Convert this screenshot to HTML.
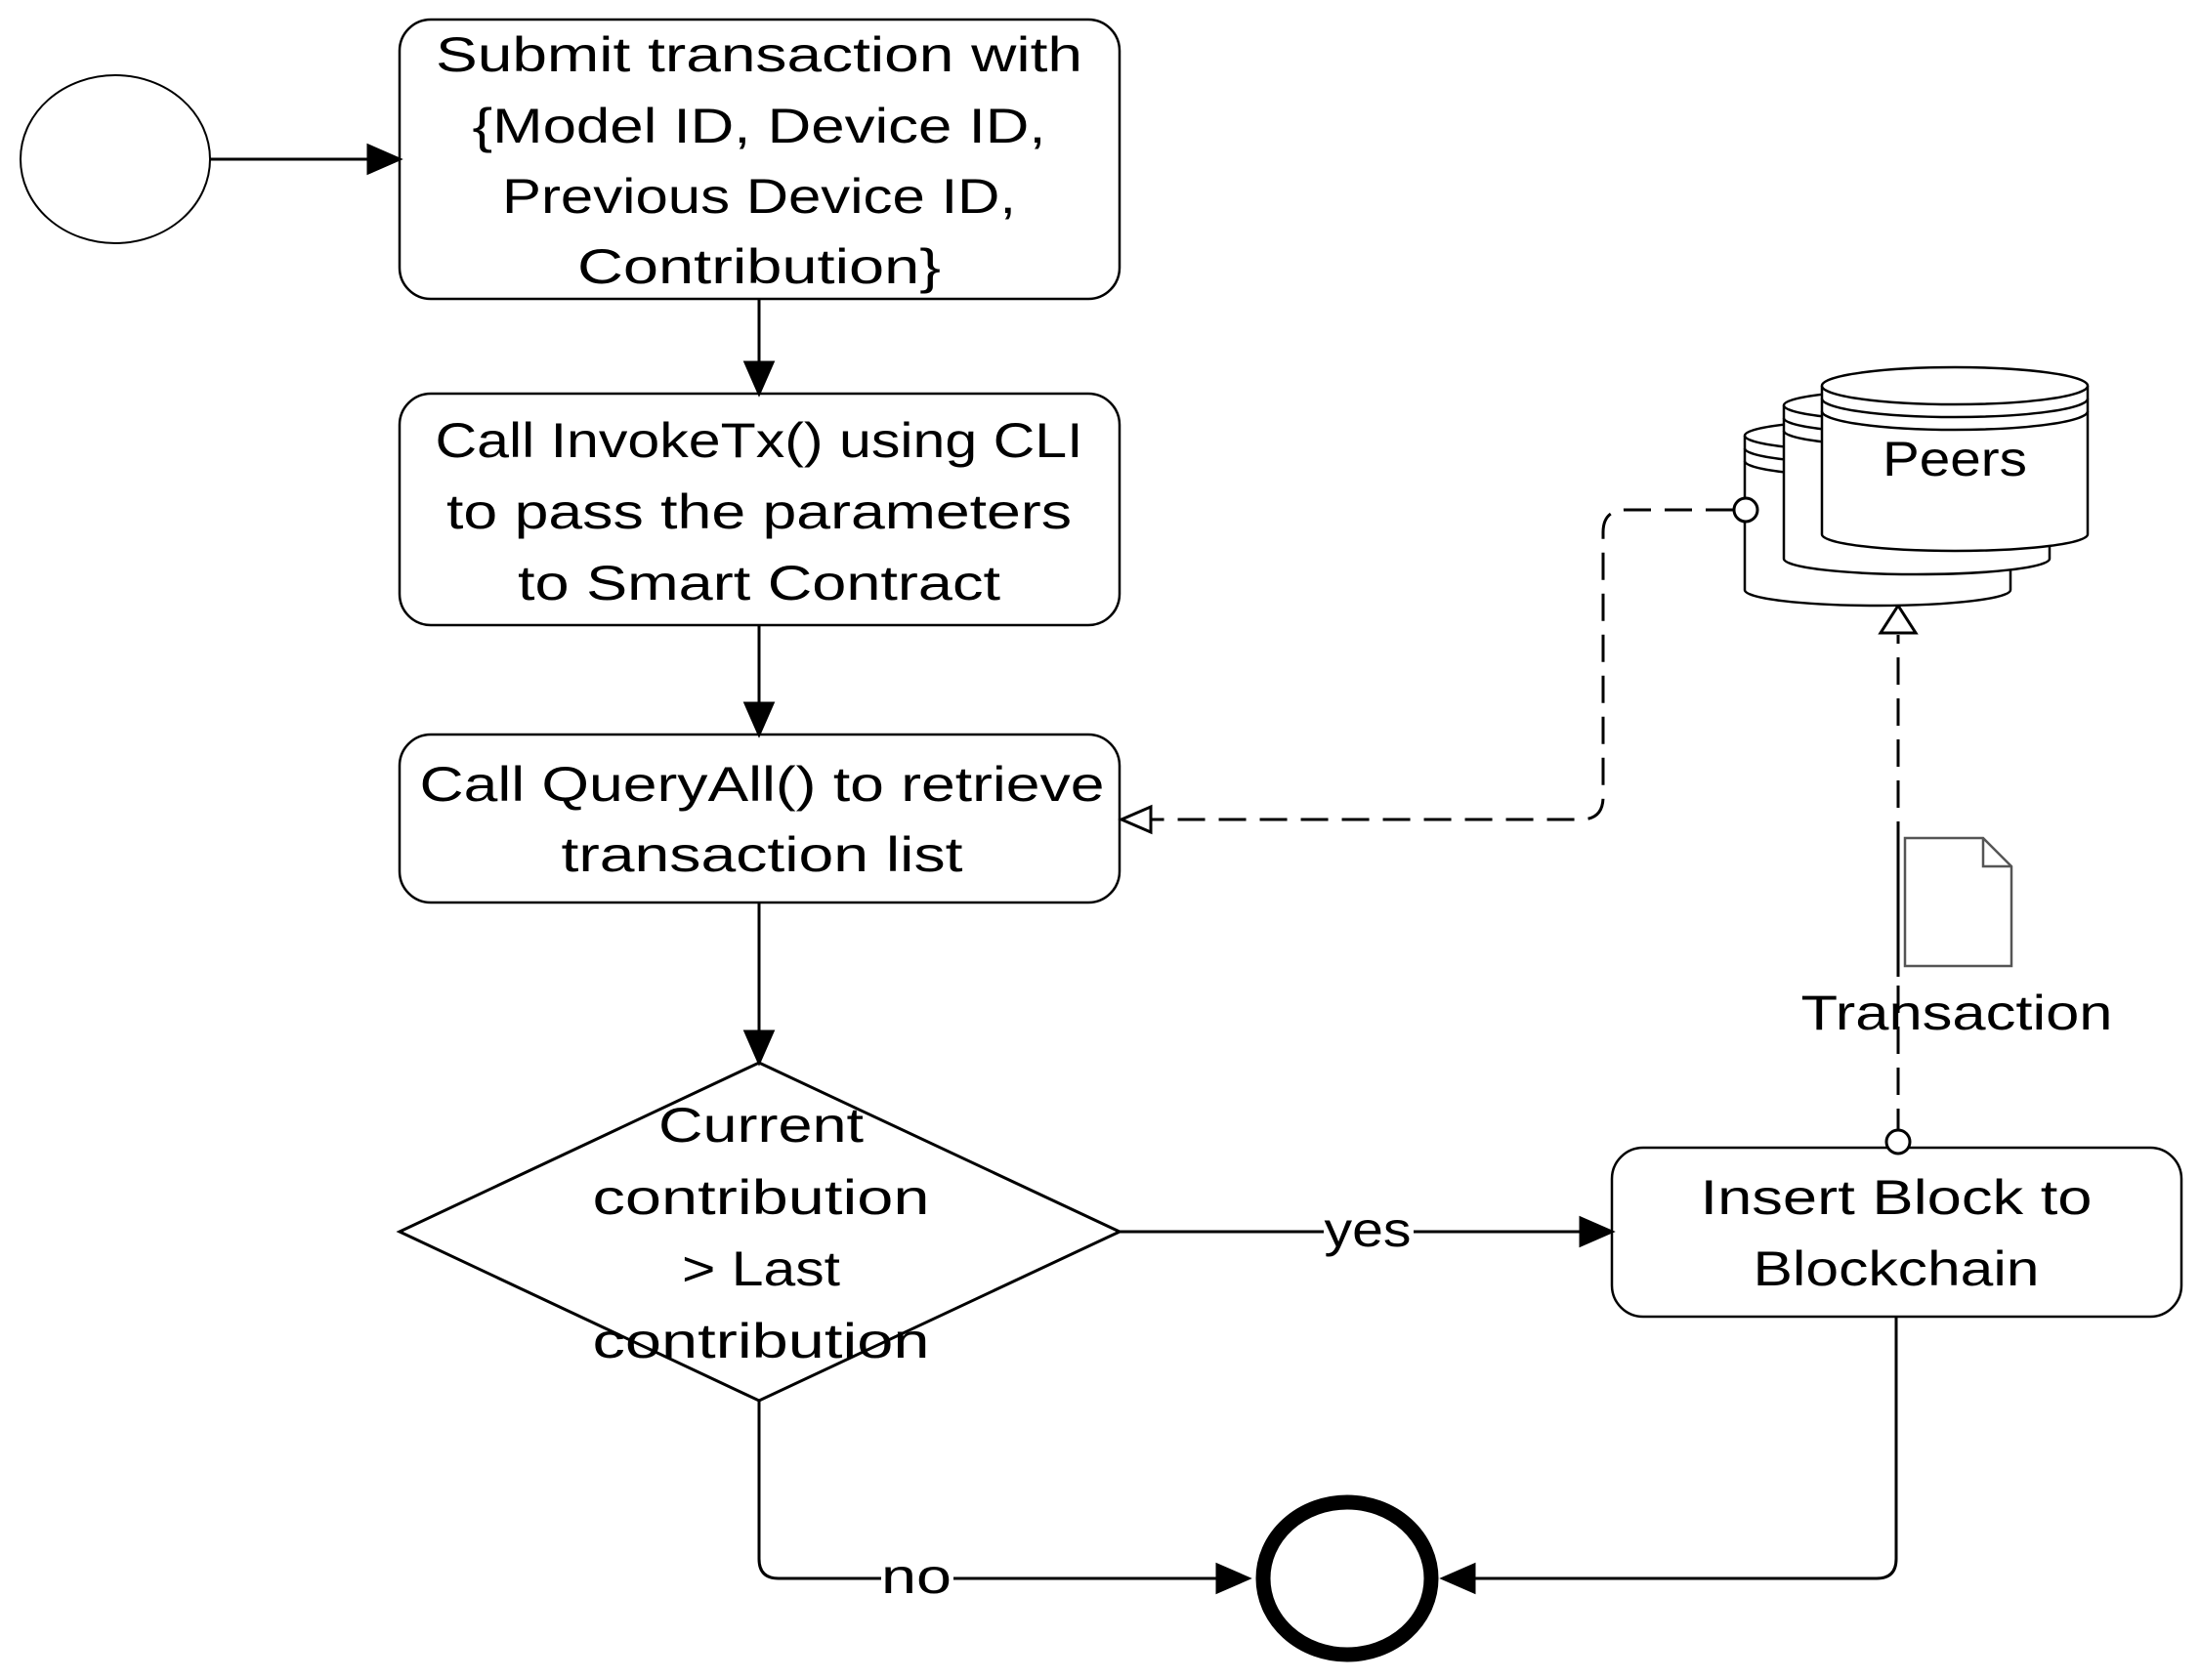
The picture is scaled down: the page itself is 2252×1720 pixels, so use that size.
<!DOCTYPE html>
<html><head><meta charset="utf-8"><style>
html,body{margin:0;padding:0;background:#fff;}
svg{display:block;}
text{font-family:"Liberation Sans",sans-serif;font-size:50px;fill:#000;text-anchor:middle;}
</style></head><body>
<svg width="2252" height="1720" viewBox="0 0 2252 1720" xmlns="http://www.w3.org/2000/svg">
<g stroke="#000" stroke-width="3" fill="none">
<ellipse cx="118" cy="163" rx="97" ry="86" stroke-width="2"/>
<line x1="215" y1="163" x2="380" y2="163"/>
<polygon points="409,163 377,149 377,177" fill="#000"/>
<rect x="409" y="20" width="737" height="286" rx="32" stroke-width="2.5"/>
<line x1="777" y1="306" x2="777" y2="375"/>
<polygon points="777,403 763,371 791,371" fill="#000"/>
<rect x="409" y="403" width="737" height="237" rx="32" stroke-width="2.5"/>
<line x1="777" y1="640" x2="777" y2="724"/>
<polygon points="777,752 763,720 791,720" fill="#000"/>
<rect x="409" y="752" width="737" height="172" rx="32" stroke-width="2.5"/>
<line x1="777" y1="924" x2="777" y2="1060"/>
<polygon points="777,1088 763,1056 791,1056" fill="#000"/>
<polygon points="777,1088 1146,1261 777,1434 409,1261"/>
<line x1="1146" y1="1261" x2="1622" y2="1261"/>
<polygon points="1650,1261 1618,1247 1618,1275" fill="#000"/>
<rect x="1650" y="1175" width="583" height="173" rx="32" stroke-width="2.5"/>
<path d="M1941,1348 V1596 Q1941,1616 1921,1616 H1505"/>
<polygon points="1477,1616 1509,1602 1509,1630" fill="#000"/>
<path d="M777,1434 V1596 Q777,1616 797,1616 H1250"/>
<polygon points="1278,1616 1246,1602 1246,1630" fill="#000"/>
<ellipse cx="1379" cy="1616" rx="86" ry="78" stroke-width="15"/>
<path d="M1774,522 H1664 Q1641,522 1641,545 V816 Q1641,839 1618,839 H1178" stroke-dasharray="28,14"/>
<polygon points="1148,839 1178,826 1178,852" fill="#fff"/>
<line x1="1943" y1="1163" x2="1943" y2="650" stroke-dasharray="28,14"/>
<polygon points="1943,620 1925,648 1961,648" fill="#fff"/>
<circle cx="1943" cy="1169" r="12" fill="#fff"/>
<g stroke-width="2.5">
<path d="M1786,446 V604 A136,16 0 0 0 2058,604 V446" fill="#fff"/>
<ellipse cx="1922" cy="446" rx="136" ry="16" fill="#fff"/>
<path d="M1786,459 A136,16 0 0 0 2058,459 M1786,472 A136,16 0 0 0 2058,472"/>
<path d="M1826,415 V572 A136,16 0 0 0 2098,572 V415" fill="#fff"/>
<ellipse cx="1962" cy="415" rx="136" ry="16" fill="#fff"/>
<path d="M1826,428 A136,16 0 0 0 2098,428 M1826,441 A136,16 0 0 0 2098,441"/>
<path d="M1865,395 V547 A136,17 0 0 0 2137,547 V395" fill="#fff"/>
<ellipse cx="2001" cy="395" rx="136" ry="19" fill="#fff"/>
<path d="M1865,408 A136,19 0 0 0 2137,408 M1865,421 A136,19 0 0 0 2137,421"/>
</g>
<circle cx="1787" cy="522" r="12" fill="#fff"/>
<path d="M1950,858 H2030 L2059,887 V989 H1950 Z" fill="#fff" stroke="#555" stroke-width="2.5"/>
<path d="M2030,858 V887 H2059" stroke="#555" stroke-width="2.5"/>
<line x1="1943" y1="858" x2="1943" y2="1000" stroke-dasharray="28,14"/>
</g>
<text x="777" y="73" textLength="662" lengthAdjust="spacingAndGlyphs">Submit transaction with</text>
<text x="777" y="146" textLength="587" lengthAdjust="spacingAndGlyphs">{Model ID, Device ID,</text>
<text x="777" y="218" textLength="526" lengthAdjust="spacingAndGlyphs">Previous Device ID,</text>
<text x="777" y="290" textLength="372" lengthAdjust="spacingAndGlyphs">Contribution}</text>
<text x="777" y="468" textLength="663" lengthAdjust="spacingAndGlyphs">Call InvokeTx() using CLI</text>
<text x="777" y="541" textLength="640" lengthAdjust="spacingAndGlyphs">to pass the parameters</text>
<text x="777" y="614" textLength="494" lengthAdjust="spacingAndGlyphs">to Smart Contract</text>
<text x="780" y="820" textLength="701" lengthAdjust="spacingAndGlyphs">Call QueryAll() to retrieve</text>
<text x="780" y="892" textLength="411" lengthAdjust="spacingAndGlyphs">transaction list</text>
<text x="779" y="1169" textLength="210" lengthAdjust="spacingAndGlyphs">Current</text>
<text x="779" y="1243" textLength="345" lengthAdjust="spacingAndGlyphs">contribution</text>
<text x="779" y="1316" textLength="162" lengthAdjust="spacingAndGlyphs">&gt; Last</text>
<text x="779" y="1390" textLength="345" lengthAdjust="spacingAndGlyphs">contribution</text>
<rect x="1355" y="1238" width="92" height="40" fill="#fff"/>
<text x="1400" y="1276" textLength="89" lengthAdjust="spacingAndGlyphs">yes</text>
<rect x="902" y="1595" width="74" height="40" fill="#fff"/>
<text x="938" y="1631" textLength="72" lengthAdjust="spacingAndGlyphs">no</text>
<text x="1941" y="1243" textLength="401" lengthAdjust="spacingAndGlyphs">Insert Block to</text>
<text x="1941" y="1316" textLength="293" lengthAdjust="spacingAndGlyphs">Blockchain</text>
<text x="2003" y="1054" textLength="319" lengthAdjust="spacingAndGlyphs">Transaction</text>
<text x="2001" y="487" textLength="148" lengthAdjust="spacingAndGlyphs">Peers</text>
</svg>
</body></html>
